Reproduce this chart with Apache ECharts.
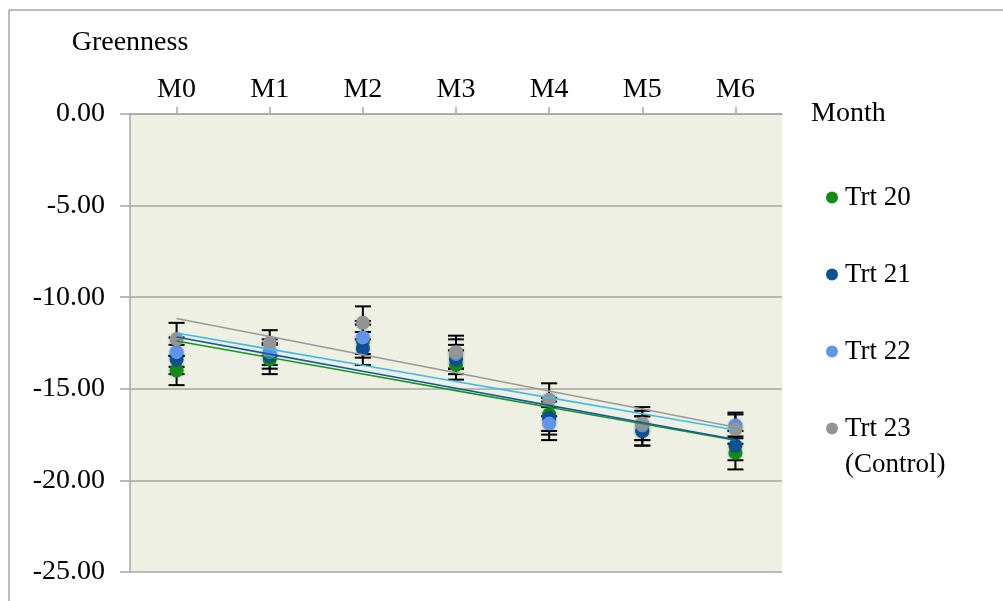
<!DOCTYPE html>
<html>
<head>
<meta charset="utf-8">
<script src="https://cdn.jsdelivr.net/npm/echarts@6/dist/echarts.min.js"></script>
<style>
  html, body { margin: 0; padding: 0; background: #ffffff; }
  #chart { width: 1003px; height: 601px; }
</style>
</head>
<body>
<div id="chart"></div>
<script>
// Greenness by month for four treatments, with error bars and linear trendlines
const months = ['M0', 'M1', 'M2', 'M3', 'M4', 'M5', 'M6'];
const yTicks = [0, -5, -10, -15, -20, -25];

const trt20 = [-14.0, -13.4, -12.4, -13.7, -16.4, -17.3, -18.5];
const trt21 = [-13.4, -13.2, -12.8, -13.4, -16.6, -17.3, -18.1];
const trt22 = [-13.0, -13.0, -12.2, -13.1, -16.9, -17.0, -17.0];
const trt23 = [-12.3, -12.5, -11.4, -13.0, -15.6, -16.9, -17.2];

const err20 = [0.8, 0.8, 0.9, 0.8, 0.9, 0.8, 0.9];
const err21 = [0.8, 0.7, 0.9, 0.8, 0.9, 0.8, 0.8];
const err22 = [0.8, 0.7, 0.9, 0.8, 0.9, 0.8, 0.7];
const err23 = [0.9, 0.7, 0.9, 0.9, 0.9, 0.9, 0.8];

const names = ['Trt 20', 'Trt 21', 'Trt 22', 'Trt 23'];
const markerColors = ['#128c14', '#0a5294', '#6294ec', '#949494'];
const trendColors = ['#17981a', '#1558a4', '#3cbce8', '#9a9a9a'];

const values = [trt20, trt21, trt22, trt23];
const errors = [err20, err21, err22, err23];

const FONT = '"Liberation Serif", "Times New Roman", serif';
const FS = 28;
const LEGEND_FS = 27;

// least-squares fit over the month index
function linearFit(ys) {
  const n = ys.length;
  const mx = (n - 1) / 2;
  const my = ys.reduce((a, b) => a + b, 0) / n;
  let sxy = 0, sxx = 0;
  ys.forEach((y, i) => { sxy += (i - mx) * (y - my); sxx += (i - mx) * (i - mx); });
  const slope = sxy / sxx;
  return ys.map((_, i) => my + slope * (i - mx));
}

function errorBarItem(params, api) {
  const x = api.value(0);
  const lo = api.coord([x, api.value(1)]);
  const hi = api.coord([x, api.value(2)]);
  const half = 8;
  const style = { stroke: '#000000', lineWidth: 2 };
  return {
    type: 'group',
    children: [
      { type: 'line', shape: { x1: lo[0], y1: lo[1], x2: hi[0], y2: hi[1] }, style },
      { type: 'line', shape: { x1: lo[0] - half, y1: lo[1], x2: lo[0] + half, y2: lo[1] }, style },
      { type: 'line', shape: { x1: hi[0] - half, y1: hi[1], x2: hi[0] + half, y2: hi[1] }, style }
    ]
  };
}

const series = [];
names.forEach((name, k) => {
  series.push({
    type: 'custom',
    name: name + ' error',
    renderItem: errorBarItem,
    encode: { x: 0, y: [1, 2] },
    data: values[k].map((v, i) => [i, v - errors[k][i], v + errors[k][i]]),
    z: 2,
    silent: true
  });
});
names.forEach((name, k) => {
  series.push({
    type: 'scatter',
    name: name,
    data: values[k],
    symbol: 'circle',
    symbolSize: 14,
    itemStyle: { color: markerColors[k], opacity: 1, shadowBlur: 3, shadowColor: 'rgba(0,0,0,0.25)' },
    z: 3
  });
});
names.forEach((name, k) => {
  series.push({
    type: 'line',
    name: name + ' trend',
    data: linearFit(values[k]),
    symbol: 'none',
    lineStyle: { color: trendColors[k], width: 1.6 },
    z: 4,
    silent: true
  });
});

const chart = echarts.init(document.getElementById('chart'), null, { renderer: 'canvas' });
chart.setOption({
  animation: false,
  backgroundColor: '#ffffff',
  grid: {
    left: 130, top: 114, right: 221, bottom: 29,
    show: true, backgroundColor: '#eef0e3', borderWidth: 0
  },
  xAxis: {
    type: 'category',
    data: months,
    position: 'top',
    boundaryGap: true,
    name: 'Month',
    nameLocation: 'end',
    nameGap: 29,
    nameTextStyle: { fontFamily: FONT, fontSize: FS, color: '#000' },
    axisLine: { show: true, lineStyle: { color: '#a6a6a6', width: 1.5 } },
    axisTick: { show: true, alignWithLabel: true, length: 7, lineStyle: { color: '#a6a6a6', width: 1.5 } },
    axisLabel: { fontFamily: FONT, fontSize: FS, color: '#000', margin: 10 },
    splitLine: { show: false }
  },
  yAxis: {
    type: 'value',
    min: yTicks[yTicks.length - 1],
    max: yTicks[0],
    interval: 5,
    name: 'Greenness',
    nameLocation: 'end',
    nameGap: 57,
    nameTextStyle: { fontFamily: FONT, fontSize: FS, color: '#000', align: 'center' },
    axisLine: { show: true, onZero: false, lineStyle: { color: '#a6a6a6', width: 1.5 } },
    axisTick: { show: true, length: 10, lineStyle: { color: '#a6a6a6', width: 1.5 } },
    axisLabel: {
      fontFamily: FONT, fontSize: FS, color: '#000', margin: 25,
      formatter: v => v.toFixed(2)
    },
    splitLine: { show: true, lineStyle: { color: '#a6a6a6', width: 1.5 } }
  },
  legend: {
    data: names.map((n, k) => ({ name: n, itemStyle: { color: markerColors[k], opacity: 1 } })),
    orient: 'vertical',
    left: 821,
    top: 179,
    icon: 'circle',
    itemWidth: 12,
    itemHeight: 12,
    itemGap: 50,
    textStyle: { fontFamily: FONT, fontSize: LEGEND_FS, color: '#000', padding: [0, 0, 0, 2] }
  },
  graphic: [
    { type: 'line', silent: true, shape: { x1: 9, y1: 10, x2: 1003, y2: 10 }, style: { stroke: '#a6a6a6', lineWidth: 1.5 } },
    { type: 'line', silent: true, shape: { x1: 9, y1: 10, x2: 9, y2: 601 }, style: { stroke: '#a6a6a6', lineWidth: 1.5 } },
    { type: 'text', silent: true, left: 845, top: 451, style: { text: '(Control)', font: LEGEND_FS + 'px ' + FONT, fill: '#000' } }
  ],
  series: series
});
</script>
</body>
</html>
